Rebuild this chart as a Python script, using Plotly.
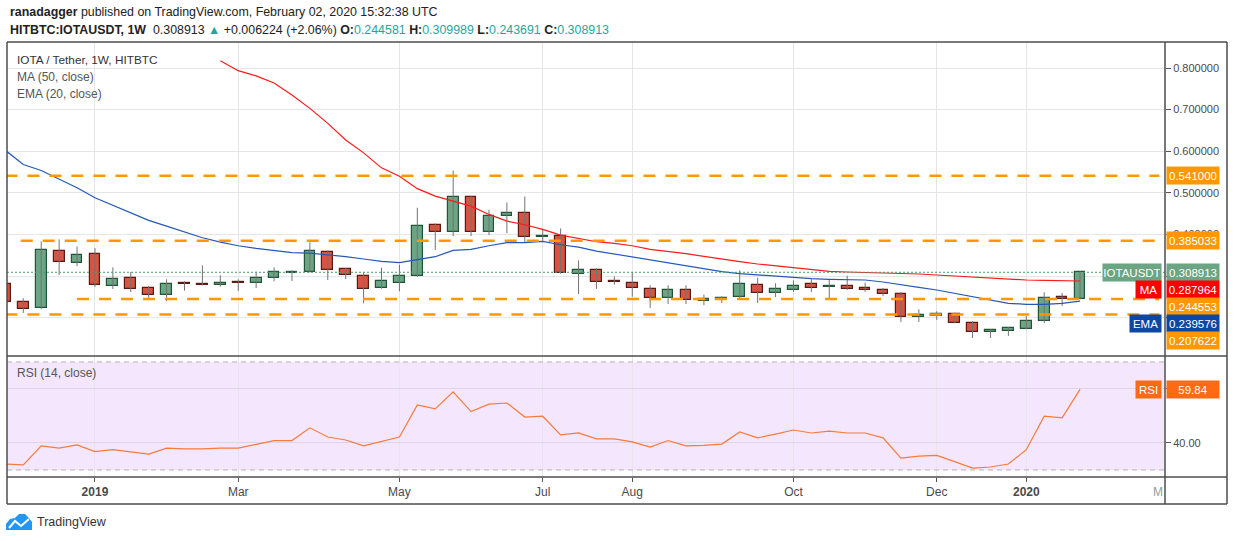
import pandas as pd
import plotly.graph_objects as go

# Velas semanales IOTA/USDT (HitBTC)
fechas = pd.date_range("2018-12-03", periods=61, freq="7D")

apertura = [0.2816, 0.2384, 0.2232, 0.3608, 0.3320, 0.3536, 0.2768, 0.2960, 0.2720, 0.2552,
            0.2840, 0.2800, 0.2792, 0.2848, 0.2840, 0.2960, 0.3072, 0.3104, 0.3584, 0.3176,
            0.3008, 0.2720, 0.2832, 0.3000, 0.4232, 0.4064, 0.4904, 0.4064, 0.4448, 0.4520,
            0.3944, 0.3968, 0.3056, 0.3152, 0.2872, 0.2840, 0.2696, 0.2480, 0.2672, 0.2408,
            0.2432, 0.2504, 0.2792, 0.2600, 0.2672, 0.2800, 0.2728, 0.2752, 0.2704, 0.2672,
            0.2576, 0.2024, 0.2048, 0.2080, 0.1880, 0.1664, 0.1680, 0.1736, 0.1920, 0.2488,
            0.244581]
maximo = [0.2850, 0.2464, 0.3832, 0.3880, 0.3712, 0.3672, 0.3208, 0.3096, 0.2760, 0.2920,
          0.2872, 0.3256, 0.3016, 0.2920, 0.3104, 0.3208, 0.3136, 0.3808, 0.3616, 0.3192,
          0.3080, 0.3200, 0.3272, 0.4640, 0.4264, 0.5536, 0.4928, 0.4592, 0.4768, 0.4912,
          0.4136, 0.4144, 0.3376, 0.3184, 0.2992, 0.3096, 0.2776, 0.2776, 0.2776, 0.2552,
          0.2512, 0.3136, 0.2960, 0.2824, 0.2896, 0.2920, 0.2904, 0.3008, 0.2840, 0.2712,
          0.2616, 0.2200, 0.2152, 0.2120, 0.1912, 0.1720, 0.1776, 0.2040, 0.2608, 0.2592,
          0.309989]
minimo = [0.2360, 0.2112, 0.2200, 0.3024, 0.3240, 0.2736, 0.2688, 0.2616, 0.2440, 0.2400,
          0.2648, 0.2776, 0.2744, 0.2640, 0.2712, 0.2872, 0.2880, 0.3080, 0.2904, 0.2928,
          0.2344, 0.2696, 0.2632, 0.2976, 0.3624, 0.3960, 0.3960, 0.3984, 0.4032, 0.3800,
          0.3824, 0.3056, 0.2568, 0.2688, 0.2792, 0.2504, 0.2232, 0.2328, 0.2328, 0.2296,
          0.2352, 0.2424, 0.2352, 0.2496, 0.2616, 0.2616, 0.2464, 0.2664, 0.2616, 0.2520,
          0.1896, 0.1896, 0.1944, 0.1864, 0.1512, 0.1512, 0.1560, 0.1720, 0.1872, 0.2280,
          0.243691]
cierre = [0.2384, 0.2216, 0.3632, 0.3344, 0.3512, 0.2792, 0.2936, 0.2696, 0.2552, 0.2816,
          0.2808, 0.2784, 0.2840, 0.2832, 0.2960, 0.3088, 0.3096, 0.3608, 0.3152, 0.3032,
          0.2696, 0.2880, 0.3008, 0.4208, 0.4064, 0.4904, 0.4064, 0.4448, 0.4520, 0.3944,
          0.3968, 0.3080, 0.3152, 0.2864, 0.2856, 0.2720, 0.2480, 0.2672, 0.2432, 0.2456,
          0.2480, 0.2816, 0.2600, 0.2696, 0.2768, 0.2720, 0.2752, 0.2696, 0.2672, 0.2568,
          0.2024, 0.2072, 0.2080, 0.1880, 0.1664, 0.1696, 0.1744, 0.1928, 0.2480, 0.2446,
          0.308913]

# Medias
ma50 = [None] * 12 + [
    0.8175, 0.7935, 0.7810, 0.7640, 0.7350, 0.7030, 0.6670, 0.6270, 0.5960, 0.5600,
    0.5400, 0.5100, 0.4920, 0.4800, 0.4680, 0.4480, 0.4320, 0.4232, 0.4120, 0.3984,
    0.3896, 0.3824, 0.3784, 0.3728, 0.3640, 0.3592, 0.3536, 0.3472, 0.3400, 0.3344,
    0.3288, 0.3240, 0.3200, 0.3144, 0.3112, 0.3096, 0.3088, 0.3064, 0.3056, 0.3048,
    0.3024, 0.3000, 0.2968, 0.2952, 0.2928, 0.2904, 0.2896, 0.2888, 0.287964]
ema20 = [0.6020, 0.5680, 0.5536, 0.5320, 0.5120, 0.4880, 0.4704, 0.4520, 0.4336, 0.4200,
         0.4064, 0.3920, 0.3816, 0.3728, 0.3664, 0.3616, 0.3560, 0.3552, 0.3512, 0.3464,
         0.3408, 0.3352, 0.3320, 0.3384, 0.3464, 0.3616, 0.3640, 0.3728, 0.3800, 0.3800,
         0.3832, 0.3752, 0.3696, 0.3600, 0.3528, 0.3464, 0.3376, 0.3312, 0.3240, 0.3176,
         0.3104, 0.3056, 0.3024, 0.2992, 0.2968, 0.2936, 0.2920, 0.2920, 0.2904, 0.2856,
         0.2784, 0.2728, 0.2664, 0.2584, 0.2496, 0.2424, 0.2344, 0.2320, 0.2320, 0.2344,
         0.239576]
rsi14 = [32.2, 31.9, 38.9, 38.1, 39.3, 36.8, 37.5, 36.8, 35.9, 38.1,
         37.8, 37.8, 38.1, 38.1, 39.4, 40.9, 40.9, 45.6, 42.2, 41.1,
         38.9, 40.5, 42.2, 54.1, 52.6, 58.9, 51.6, 54.4, 54.8, 49.6,
         49.9, 43.0, 43.7, 41.5, 41.5, 40.4, 38.5, 40.9, 38.9, 39.1,
         39.6, 44.1, 41.9, 43.3, 44.8, 43.7, 44.4, 43.7, 43.7, 41.9,
         34.4, 35.1, 35.4, 33.1, 30.7, 31.1, 32.2, 37.5, 49.9, 49.3,
         59.84]

# Niveles horizontales dibujados por el autor (valor, fecha de inicio)
niveles = [0.541, 0.385033, 0.244553, 0.207622]
inicio_niveles = ["2018-12-03", "2018-12-09", "2018-12-31", "2018-12-03"]

meses_tick = ["2019-01-07", "2019-03-04", "2019-05-06", "2019-07-01", "2019-08-05",
              "2019-10-07", "2019-12-02", "2020-01-06"]
meses_txt = ["<b>2019</b>", "Mar", "May", "Jul", "Aug", "Oct", "Dec", "<b>2020</b>"]
precios_tick = [0.2, 0.3, 0.4, 0.5, 0.6, 0.7, 0.8]
# las etiquetas de 0.2 y 0.3 quedan tapadas por las cajas de precio
precios_txt = ["", "", "0.400000", "0.500000", "0.600000", "0.700000", "0.800000"]

FUENTE = "Liberation Sans"
VERDE, VERDE_BORDE = "#6BA583", "#225437"
ROJO, ROJO_BORDE = "#D75442", "#5B1A13"
NARANJA = "#FF9800"


def px(x):
    # pixel horizontal -> coordenada paper
    return (x - 7) / 1158


def py(y):
    # pixel vertical -> coordenada paper
    return (477 - y) / 435


fig = go.Figure()

# Mechas
wx, wy = [], []
for f, lo, hi in zip(fechas, minimo, maximo):
    wx += [f, f, None]
    wy += [lo, hi, None]
fig.add_trace(go.Scatter(x=wx, y=wy, mode="lines", line=dict(color="#737375", width=1),
                         hoverinfo="skip"))

# Cuerpos
alcista = [c >= o for o, c in zip(apertura, cierre)]
fig.add_trace(go.Bar(
    x=fechas,
    y=[abs(c - o) for o, c in zip(apertura, cierre)],
    base=[min(o, c) for o, c in zip(apertura, cierre)],
    width=7 * 0.6 * 86400000,
    marker=dict(color=[VERDE if a else ROJO for a in alcista],
                line=dict(color=[VERDE_BORDE if a else ROJO_BORDE for a in alcista], width=1.2)),
))

fig.add_trace(go.Scatter(x=fechas, y=ma50, mode="lines", line=dict(color="#FF1A1A", width=1.2)))
fig.add_trace(go.Scatter(x=fechas, y=ema20, mode="lines", line=dict(color="#2458B8", width=1.2)))
fig.add_trace(go.Scatter(x=fechas, y=rsi14, mode="lines", yaxis="y2",
                         line=dict(color="#F77B3B", width=1.2)))

shapes = []
for v, ini in zip(niveles, inicio_niveles):
    shapes.append(dict(type="line", xref="x", yref="y", x0=ini, x1="2020-02-27", y0=v, y1=v,
                       line=dict(color=NARANJA, width=2.5, dash="12px,10px")))
shapes.append(dict(type="line", xref="paper", yref="y", x0=0, x1=1, y0=cierre[-1], y1=cierre[-1],
                   line=dict(color="#4E9C70", width=1, dash="2px,2px")))
# Zona RSI
shapes.append(dict(type="rect", xref="paper", yref="y2", x0=0, x1=px(1164), y0=30, y1=70,
                   fillcolor="#F3E6FD", line=dict(width=0), layer="below"))
for v in (30, 70):
    shapes.append(dict(type="line", xref="paper", yref="y2", x0=0, x1=px(1164), y0=v, y1=v,
                       line=dict(color="#B5B0BE", width=1, dash="5px,4px")))
# Marco
borde = dict(color="#4D4D4D", width=1.5)
for x0, y0, x1, y1 in [(7, 42, 1227, 42), (7, 42, 7, 504), (1227, 42, 1227, 504),
                       (1165, 42, 1165, 504), (7, 356, 1227, 356), (7, 477, 1227, 477),
                       (7, 504, 1227, 504)]:
    shapes.append(dict(type="line", xref="paper", yref="paper", x0=px(x0), x1=px(x1),
                       y0=py(y0), y1=py(y1), line=borde))
# Logo TradingView
nube = [(6, 530), (6, 524), (10, 519), (15, 518), (19, 514), (25, 514), (29, 518), (32, 522), (32, 530)]
shapes.append(dict(type="path", xref="paper", yref="paper",
                   path="M " + " L ".join(f"{px(a):.5f},{py(b):.5f}" for a, b in nube) + " Z",
                   fillcolor="#2196F3", line=dict(width=0)))
zig = [(9, 528), (15, 521), (21, 526), (29, 519)]
shapes.append(dict(type="path", xref="paper", yref="paper",
                   path="M " + " L ".join(f"{px(a):.5f},{py(b):.5f}" for a, b in zig),
                   line=dict(color="white", width=2)))

ann = []


def texto(x, y, t, size=12, color="#4A4A4A", anchor="left"):
    ann.append(dict(xref="paper", yref="paper", x=px(x), y=py(y), text=t, showarrow=False,
                    xanchor=anchor, yanchor="middle", font=dict(family=FUENTE, size=size, color=color)))


TEAL = "#26A69A"
texto(8, 12, "<b>ranadagger</b> published on TradingView.com, February 02, 2020 15:32:38 UTC",
      size=12.4, color="#222")
texto(8, 30, "<b>HITBTC:IOTAUSDT, 1W</b>  0.308913 "
      f"<span style='color:{TEAL}'>▲</span> +0.006224 (+2.06%) "
      f"<b>O:</b><span style='color:{TEAL}'>0.244581</span> "
      f"<b>H:</b><span style='color:{TEAL}'>0.309989</span> "
      f"<b>L:</b><span style='color:{TEAL}'>0.243691</span> "
      f"<b>C:</b><span style='color:{TEAL}'>0.308913</span>", size=12.4, color="#222")
texto(15, 60, "IOTA / Tether, 1W, HITBTC", size=11.8, color="#333")
texto(15, 77, "MA (50, close)", size=12, color="#555")
texto(15, 94, "EMA (20, close)", size=12, color="#555")
texto(15, 373, "RSI (14, close)", size=12, color="#555")
texto(1165, 492, "M", size=12, color="#999", anchor="right")
texto(35, 522, "TradingView", size=12.5, color="#333")


def caja(valor, t, color, yshift=0, eje="y", izquierda=None):
    ann.append(dict(xref="paper", yref=eje, x=1, y=valor, yshift=yshift, xanchor="left", xshift=1,
                    text=t, showarrow=False, bgcolor=color, width=50, height=15, borderpad=1,
                    font=dict(family=FUENTE, size=11.5, color="white")))
    if izquierda:
        ann.append(dict(xref="paper", yref=eje, x=1, y=valor, yshift=yshift, xanchor="right",
                        xshift=-3, text=izquierda[0], showarrow=False, bgcolor=color,
                        width=izquierda[1], height=15, borderpad=1,
                        font=dict(family=FUENTE, size=11.5, color="white")))


caja(0.541, "0.541000", NARANJA)
caja(0.385033, "0.385033", NARANJA)
caja(cierre[-1], f"{cierre[-1]:.6f}", VERDE, izquierda=("IOTAUSDT", 56))
caja(ma50[-1], f"{ma50[-1]:.6f}", "#FF0000", yshift=-8, izquierda=("MA", 23))
caja(0.244553, "0.244553", NARANJA, yshift=-7)
caja(ema20[-1], f"{ema20[-1]:.6f}", "#0D47A1", yshift=-22, izquierda=("EMA", 29))
caja(0.207622, "0.207622", NARANJA, yshift=-26)
caja(rsi14[-1], f"{rsi14[-1]:.2f}", "#FF6A13", eje="y2", izquierda=("RSI", 23))

fig.update_layout(
    width=1234, height=541,
    margin=dict(l=7, r=69, t=42, b=64),
    paper_bgcolor="white", plot_bgcolor="white",
    showlegend=False, bargap=0,
    font=dict(family=FUENTE, color="#4A4A4A"),
    xaxis=dict(type="date", range=["2018-12-03 15:00", "2020-02-29 05:00"], anchor="y2",
               tickvals=meses_tick, ticktext=meses_txt, showgrid=True, gridcolor="#E6E6E6",
               ticks="outside", ticklen=4, tickcolor="#555", tickfont=dict(size=12, color="#4A4A4A"),
               showline=False, zeroline=False),
    yaxis=dict(domain=[py(356), 1], range=[0.1077, 0.8625], side="right", anchor="x",
               tickvals=precios_tick, ticktext=precios_txt,
               showgrid=True, gridcolor="#E6E6E6", ticks="outside", ticklen=5, tickcolor="#555",
               tickfont=dict(size=11, color="#4A4A4A"), zeroline=False, showline=False),
    yaxis2=dict(domain=[0, py(356)], range=[27.4, 72.2], side="right", anchor="x",
                tickvals=[40, 60], ticktext=["40.00", ""], showgrid=True, gridcolor="#DDD5E8",
                ticks="outside", ticklen=5, tickcolor="#555",
                tickfont=dict(size=11, color="#4A4A4A"), zeroline=False, showline=False),
    shapes=shapes,
    annotations=ann,
)

# la página tiene margen de 8px por defecto: se quita para alinear con la captura
fig.write_html("out.html", config={"displayModeBar": False},
               post_script="document.body.style.margin='0';")
